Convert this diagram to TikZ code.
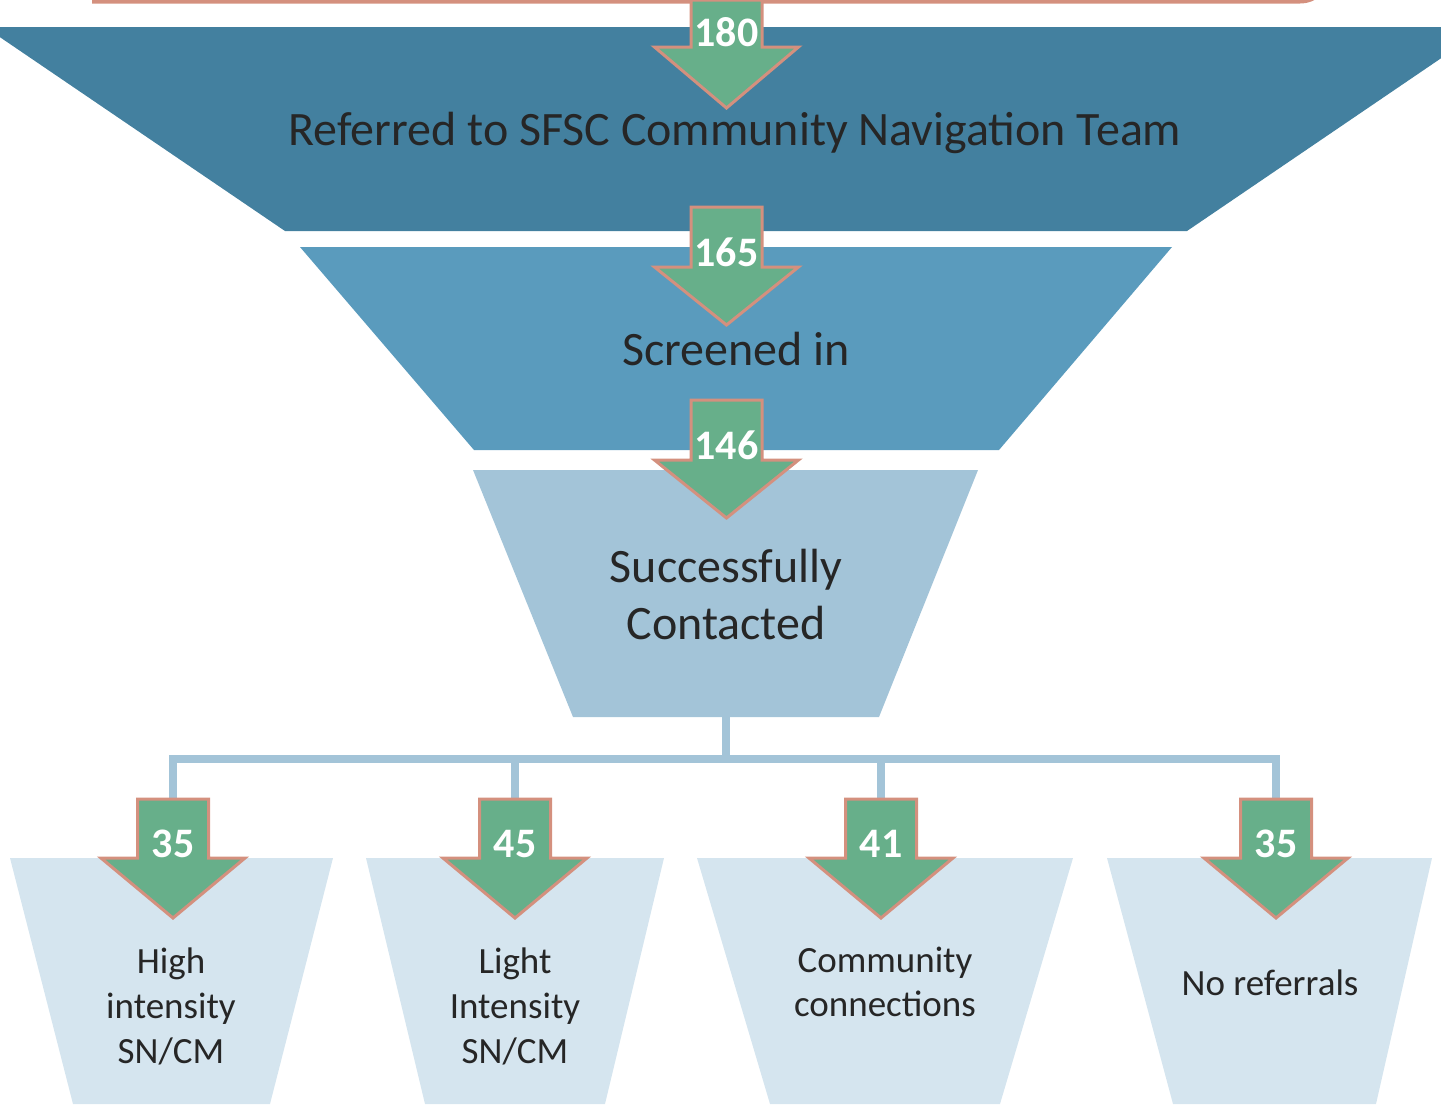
\documentclass[tikz,border=0pt]{standalone}
\usepackage{fontspec}
\setmainfont{Carlito}
\definecolor{stageA}{HTML}{43809F}
\definecolor{stageB}{HTML}{5A9BBD}
\definecolor{stageC}{HTML}{A3C4D8}
\definecolor{stageD}{HTML}{D5E5EF}
\definecolor{arrowfill}{HTML}{67AF8A}
\definecolor{arrowedge}{HTML}{D4907E}
\definecolor{labeltext}{HTML}{262626}

% down arrow with its count: name, centre x, top y, head y, tip y, count
\newcommand\countarrow[6]{%
  \draw[flowarrow] ({#2-35.5},#3) -- ({#2+35.5},#3) -- ({#2+35.5},#4)
    -- ({#2+72},#4) -- (#2,#5) -- ({#2-72},#4) -- ({#2-35.5},#4) -- cycle;
  \node[countlabel] (#1) at (#2,{#4-1}) {#6};
}

\begin{document}
\begin{tikzpicture}[x=0.5pt,y=-0.5pt,
  stagetext/.style={text=labeltext,font=\fontsize{24}{29}\selectfont,anchor=base,inner sep=0pt},
  outcometext/.style={text=labeltext,font=\fontsize{18.5}{23}\selectfont,anchor=base,inner sep=0pt},
  countlabel/.style={text=white,font=\bfseries\fontsize{21}{21}\selectfont,anchor=base,inner sep=0pt},
  flowarrow/.style={fill=arrowfill,draw=arrowedge,line width=1.5pt,line join=miter},
  branch/.style={draw=stageC,line width=4pt}]

\useasboundingbox (0,0) rectangle (1441,1104);
\clip (0,0) rectangle (1441,1104);

% lower edge of the box above the funnel
\draw[arrowedge,line width=2pt,rounded corners=15] (92,1.5) -- (1330,1.5) -- (1330,-40);

% funnel stages
\fill[stageA] (-15,27) -- (1487,27) -- (1187,231) -- (285,231) -- cycle;
\fill[stageB] (300,247) -- (1172,247) -- (999,450) -- (474,450) -- cycle;
\fill[stageC] (473,470) -- (978,470) -- (879,717) -- (573,717) -- cycle;

% outcome buckets
\fill[stageD] (10,858) -- (333,858) -- (270,1104) -- (73,1104) -- cycle;
\fill[stageD] (366,858) -- (664,858) -- (605,1104) -- (425,1104) -- cycle;
\fill[stageD] (697,858) -- (1073,858) -- (1000,1104) -- (770,1104) -- cycle;
\fill[stageD] (1107,858) -- (1432,858) -- (1376,1104) -- (1173,1104) -- cycle;

% branching connector
\coordinate (hub) at (726,717);
\coordinate (split) at (726,759);
\coordinate (highTop) at (173,799);
\coordinate (lightTop) at (515,799);
\coordinate (commTop) at (881,799);
\coordinate (noneTop) at (1276,799);
\draw[branch] (hub) -- (split);
\draw[branch] (split) -| (highTop);
\draw[branch] (split) -| (lightTop);
\draw[branch] (split) -| (commTop);
\draw[branch] (split) -| (noneTop);

% counts
\countarrow{n180}{726.5}{0}{47}{108}{180}
\countarrow{n165}{726.5}{207}{267}{325}{165}
\countarrow{n146}{726.5}{400}{460}{518}{146}
\countarrow{n35a}{173}{799}{858}{918}{35}
\countarrow{n45}{515}{799}{858}{918}{45}
\countarrow{n41}{881}{799}{858}{918}{41}
\countarrow{n35b}{1276}{799}{858}{918}{35}

% stage labels
\node[stagetext] (referred) at (735,145) {Referred to SFSC Community Navigation Team};
\node[stagetext] (screened) at (736,365) {Screened in};
\node[stagetext] (contactedA) at (726,582) {Successfully};
\node[stagetext] (contactedB) at (726,639) {Contacted};

% outcome labels
\node[outcometext] (highA) at (171,973) {High};
\node[outcometext] (highB) at (171,1018) {intensity};
\node[outcometext] (highC) at (171,1063) {SN/CM};
\node[outcometext] (lightA) at (515,973) {Light};
\node[outcometext] (lightB) at (515,1018) {Intensity};
\node[outcometext] (lightC) at (515,1063) {SN/CM};
\node[outcometext] (commA) at (885,972) {Community};
\node[outcometext] (commB) at (885,1016) {connections};
\node[outcometext] (none) at (1270,995) {No referrals};
\end{tikzpicture}
\end{document}
